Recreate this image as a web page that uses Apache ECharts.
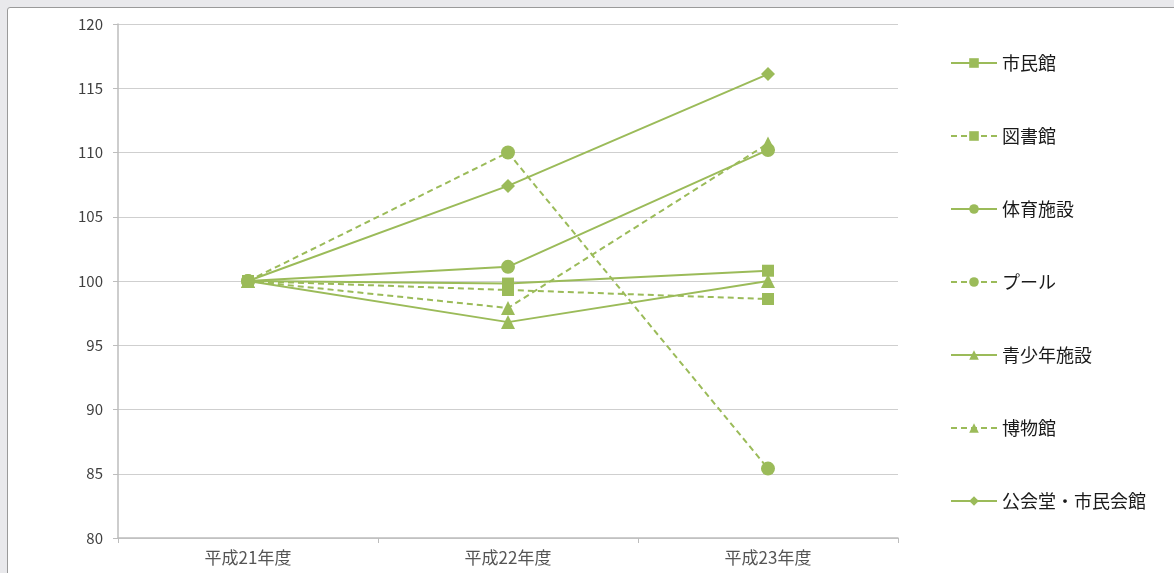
<!DOCTYPE html>
<html><head><meta charset="utf-8">
<script src="https://cdn.jsdelivr.net/npm/echarts@6/dist/echarts.min.js"></script>
<style>
html,body{margin:0;padding:0;background:#e9e9ec;overflow:hidden;width:1174px;height:573px;}
#c{position:absolute;left:7px;top:7px;width:1180px;height:580px;background:#fff;border:1px solid #9a9a9a;border-radius:3px;}
</style></head><body>
<div id="c"></div>
<script>
var categories = ['平成21年度','平成22年度','平成23年度'];
var shiminkan = [100, 99.8, 100.8];
var toshokan = [100, 99.3, 98.6];
var taiiku = [100, 101.1, 110.2];
var pool = [100, 110.0, 85.4];
var seishonen = [100, 96.8, 100.0];
var hakubutsukan = [100, 97.9, 110.7];
var kokaido = [100, 107.4, 116.1];
var yTicks = [80, 85, 90, 95, 100, 105, 110, 115, 120];

var green = '#9bbb59';
var font = '"Noto Sans CJK JP", sans-serif';
function s(name, data, symbol, size, dashed) {
  return {
    name: name, type: 'line', data: data, symbol: symbol, symbolSize: size,
    itemStyle: {color: green},
    lineStyle: {color: green, width: 2, type: dashed ? [6, 4] : 'solid'},
    animation: false
  };
}
var chart = echarts.init(document.getElementById('c'));
chart.setOption({
  animation: false,
  textStyle: {fontFamily: font},
  grid: {left: 110, top: 16, width: 780, height: 514},
  xAxis: {
    type: 'category', data: categories, boundaryGap: true,
    axisLine: {lineStyle: {color: '#bdbdbd', width: 1.5}},
    axisTick: {show: true, length: 5, lineStyle: {color: '#bdbdbd'}},
    axisLabel: {color: '#555', fontSize: 17, margin: 11, fontFamily: font}
  },
  yAxis: {
    type: 'value', min: yTicks[0], max: yTicks[yTicks.length - 1], interval: 5,
    axisLine: {show: true, lineStyle: {color: '#bdbdbd', width: 1.5}},
    axisTick: {show: true, length: 5, lineStyle: {color: '#bdbdbd'}},
    axisLabel: {color: '#404040', fontSize: 15, margin: 15, fontFamily: font},
    splitLine: {lineStyle: {color: '#cfcfcf', width: 1.2}}
  },
  legend: {
    orient: 'vertical', left: 937, top: 41, itemWidth: 46, itemHeight: 12, itemGap: 55,
    textStyle: {color: '#1a1a1a', fontSize: 18, fontFamily: font},
    data: ['市民館','図書館','体育施設','プール','青少年施設','博物館','公会堂・市民会館']
  },
  series: [
    s('市民館', shiminkan, 'rect', 12, false),
    s('図書館', toshokan, 'rect', 12, true),
    s('体育施設', taiiku, 'circle', 14, false),
    s('プール', pool, 'circle', 14, true),
    s('青少年施設', seishonen, 'triangle', 14, false),
    s('博物館', hakubutsukan, 'triangle', 14, true),
    s('公会堂・市民会館', kokaido, 'diamond', 14, false)
  ]
});
</script>
</body></html>
